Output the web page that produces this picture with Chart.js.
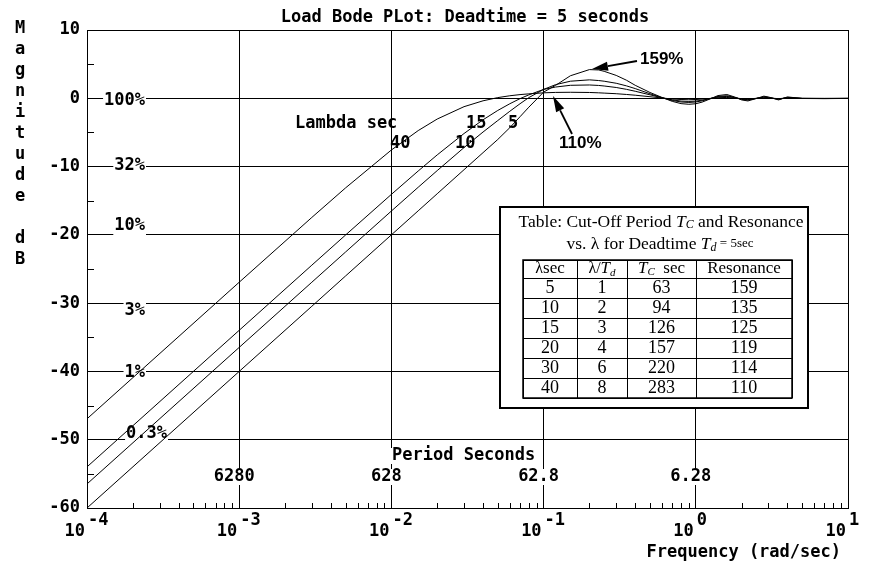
<!DOCTYPE html>
<html>
<head>
<meta charset="utf-8">
<script src="https://cdn.jsdelivr.net/npm/chart.js@4.4.1/dist/chart.umd.min.js"></script>
<style>
  html, body { margin: 0; padding: 0; background: #fff; }
  #chart { display: block; }
</style>
</head>
<body>
<canvas id="chart" width="869" height="563"></canvas>
<script>
// frequency grid (rad/sec) and load response magnitude (dB) per lambda
const freqs = [0.0001, 0.001, 0.003, 0.005, 0.01, 0.015, 0.02, 0.03, 0.04, 0.05, 0.06, 0.07, 0.08,
  0.1, 0.12, 0.15, 0.2, 0.23, 0.25, 0.3, 0.35, 0.4, 0.5, 0.6, 0.7, 0.8, 0.9, 1.0, 1.1, 1.2,
  1.4, 1.6, 1.8, 2.0, 2.2, 2.5, 2.8, 3.0, 3.5, 4, 5, 7, 10];

const lambda5Db = [-60.0, -40.0, -30.46, -26.02, -20.0, -16.48, -13.98, -10.46, -7.96, -6.03, -4.3, -2.7, -1.3,
  0.9, 1.9, 3.3, 4.2, 4.15, 3.95, 3.35, 2.65, 1.9, 0.85, 0.12, -0.45, -0.78, -0.88, -0.80, -0.56, -0.23,
  0.40, 0.55, 0.19, -0.24, -0.39, -0.03, 0.31, 0.19, -0.24, 0.20, -0.03, -0.05, -0.02];

const lambda10Db = [-56.48, -36.48, -26.94, -22.51, -16.51, -13.03, -10.59, -7.22, -4.94, -3.26, -1.9, -0.8, 0.1,
  1.3, 2.0, 2.5, 2.7, 2.6, 2.5, 2.2, 1.82, 1.42, 0.66, 0.08, -0.32, -0.54, -0.61, -0.54, -0.37, -0.15,
  0.27, 0.37, 0.13, -0.16, -0.26, -0.02, 0.21, 0.13, -0.16, 0.13, -0.02, -0.04, -0.02];

const lambda15Db = [-53.98, -33.98, -24.44, -20.02, -14.07, -10.65, -8.29, -5.16, -3.15, -1.78, -0.80, -0.05, 0.5,
  1.3, 1.65, 1.9, 1.95, 1.88, 1.80, 1.58, 1.31, 1.03, 0.51, 0.07, -0.23, -0.41, -0.46, -0.41, -0.28, -0.11,
  0.20, 0.27, 0.10, -0.12, -0.20, -0.01, 0.16, 0.09, -0.12, 0.10, -0.01, -0.03, -0.01];

const lambda40Db = [-46.94, -26.94, -17.45, -13.12, -7.57, -4.73, -3.04, -1.23, -0.37, 0.10, 0.37, 0.54, 0.65,
  0.80, 0.86, 0.88, 0.85, 0.80, 0.76, 0.67, 0.56, 0.45, 0.23, 0.04, -0.10, -0.18, -0.21, -0.18, -0.12, -0.05,
  0.09, 0.12, 0.04, -0.05, -0.09, -0.01, 0.07, 0.04, -0.05, 0.04, -0.01, -0.01, -0.01];

const decadeExps = [-4, -3, -2, -1, 0, 1];
const minorMults = [2, 3, 4, 5, 6, 7, 8, 9];
const yMinorTicks = [5, -5, -15, -25, -35, -45, -55];

const percentLevels = [0, -10, -20, -30, -40, -50];
const percentLabels = ['100%', '32%', '10%', '3%', '1%', '0.3%'];

const periodFreqs = [0.001, 0.01, 0.1, 1];
const periodLabels = ['6280', '628', '62.8', '6.28'];

// table values
const tableLambda = [5, 10, 15, 20, 30, 40];
const tableRatio = [1, 2, 3, 4, 6, 8];
const tableTc = [63, 94, 126, 157, 220, 283];
const tableResonance = [159, 135, 125, 119, 114, 110];

const MONO = 'bold 17px "DejaVu Sans Mono", "Liberation Mono", monospace';
const SANS = 'bold 17px "Liberation Sans", Arial, sans-serif';
const SERIF = '"Liberation Serif", "DejaVu Serif", serif';

// label layout (pixel offsets relative to their anchors)
const percentRight = [145, 145, 145, 145, 145, 167];
const percentDy = [2, -1, -9, 7, 1, -6];

const toPoints = (vals) => freqs.map((f, i) => ({ x: f, y: vals[i] }));

const put = (ctx, str, x, y, font, align = 'left') => {
  ctx.font = font;
  ctx.textAlign = align;
  ctx.textBaseline = 'middle';
  ctx.fillText(str, x, y);
};

const clearBehind = (ctx, str, x, y, font, align, extraTop = 0, extraBottom = 0) => {
  ctx.font = font;
  const w = ctx.measureText(str).width;
  let left = x;
  if (align === 'right') left = x - w;
  if (align === 'center') left = x - w / 2;
  ctx.fillStyle = '#fff';
  ctx.fillRect(left - 1, y - 8 - extraTop, w + 2, 16 + extraTop + extraBottom);
  ctx.fillStyle = '#000';
};

const rich = (ctx, segs, cx, cy) => {
  ctx.textBaseline = 'middle';
  ctx.textAlign = 'left';
  let total = 0;
  segs.forEach((s) => {
    ctx.font = s.f;
    total += ctx.measureText(s.t).width;
  });
  let x = cx - total / 2;
  segs.forEach((s) => {
    ctx.font = s.f;
    ctx.fillText(s.t, x, cy + (s.dy || 0));
    x += ctx.measureText(s.t).width;
  });
};

const arrow = (ctx, x1, y1, x2, y2) => {
  const ang = Math.atan2(y2 - y1, x2 - x1);
  const head = 16;
  const half = 4.5;
  const bx = x2 - head * Math.cos(ang);
  const by = y2 - head * Math.sin(ang);
  ctx.lineWidth = 1.8;
  ctx.beginPath();
  ctx.moveTo(x1, y1);
  ctx.lineTo(bx, by);
  ctx.stroke();
  ctx.beginPath();
  ctx.moveTo(x2, y2);
  ctx.lineTo(bx + half * Math.sin(ang), by - half * Math.cos(ang));
  ctx.lineTo(bx - half * Math.sin(ang), by + half * Math.cos(ang));
  ctx.closePath();
  ctx.fill();
};

const drawTable = (ctx) => {
  const serif = (size, italic) => (italic ? 'italic ' : '') + size + 'px ' + SERIF;
  ctx.fillStyle = '#fff';
  ctx.fillRect(500, 207, 308, 201);
  ctx.strokeStyle = '#000';
  ctx.lineWidth = 2;
  ctx.strokeRect(500, 207, 308, 201);
  ctx.fillStyle = '#000';

  rich(ctx, [
    { t: 'Table: Cut-Off Period ', f: serif(17.5) },
    { t: 'T', f: serif(17.5, true) },
    { t: 'C', f: serif(12, true), dy: 3 },
    { t: ' and Resonance', f: serif(17.5) },
  ], 661, 222);
  rich(ctx, [
    { t: 'vs. λ for Deadtime ', f: serif(17.5) },
    { t: 'T', f: serif(17.5, true) },
    { t: 'd', f: serif(12, true), dy: 4 },
    { t: ' = 5sec', f: serif(13) },
  ], 660, 244);

  const cols = [523, 577, 627, 696, 792];
  const rows = [260, 278, 298, 318, 338, 358, 378, 398];
  ctx.lineWidth = 1;
  ctx.beginPath();
  cols.forEach((x) => { ctx.moveTo(x + 0.5, rows[0]); ctx.lineTo(x + 0.5, rows[rows.length - 1]); });
  rows.forEach((y) => { ctx.moveTo(cols[0], y + 0.5); ctx.lineTo(cols[cols.length - 1], y + 0.5); });
  ctx.stroke();
  ctx.lineWidth = 1.5;
  ctx.strokeRect(cols[0], rows[0], cols[4] - cols[0], rows[7] - rows[0]);

  const mid = (i) => (cols[i] + cols[i + 1]) / 2;
  const hy = (rows[0] + rows[1]) / 2;
  rich(ctx, [{ t: 'λ', f: serif(16) }, { t: 'sec', f: serif(17) }], mid(0), hy);
  rich(ctx, [{ t: 'λ/', f: serif(16) }, { t: 'T', f: serif(17, true) }, { t: 'd', f: serif(11, true), dy: 4 }], mid(1), hy);
  rich(ctx, [{ t: 'T', f: serif(17, true) }, { t: 'C', f: serif(11, true), dy: 3 }, { t: '  sec', f: serif(17) }], mid(2), hy);
  rich(ctx, [{ t: 'Resonance', f: serif(17) }], mid(3), hy);

  tableLambda.forEach((v, r) => {
    const y = (rows[r + 1] + rows[r + 2]) / 2 + 0.5;
    [v, tableRatio[r], tableTc[r], tableResonance[r]].forEach((cell, c) => {
      put(ctx, String(cell), mid(c), y, serif(18), 'center');
    });
  });
};

const overlay = {
  id: 'overlay',
  beforeDatasetsDraw(chart) {
    const { ctx, chartArea: a, scales: { x, y } } = chart;
    ctx.save();
    // gaps in the grid behind the in-plot labels
    percentLabels.forEach((lab, i) => {
      const ly = y.getPixelForValue(percentLevels[i]);
      const cy = ly + percentDy[i];
      const up = Math.max(0, cy - 8 - (ly - 2));
      const down = Math.max(0, ly + 2 - (cy + 8));
      clearBehind(ctx, lab, percentRight[i], cy, MONO, 'right', up, down);
    });
    periodLabels.forEach((lab, i) => {
      clearBehind(ctx, lab, x.getPixelForValue(periodFreqs[i]) - 5, 477, MONO, 'center');
    });
    clearBehind(ctx, 'Period Seconds', 392, 456, MONO, 'left');
    // minor ticks
    ctx.strokeStyle = '#000';
    ctx.lineWidth = 1;
    ctx.beginPath();
    decadeExps.slice(0, -1).forEach((e) => {
      minorMults.forEach((m) => {
        const px = Math.round(x.getPixelForValue(m * Math.pow(10, e))) + 0.5;
        ctx.moveTo(px, a.bottom);
        ctx.lineTo(px, a.bottom - 5);
      });
    });
    yMinorTicks.forEach((v) => {
      const py = Math.round(y.getPixelForValue(v)) + 0.5;
      ctx.moveTo(a.left, py);
      ctx.lineTo(a.left + 7, py);
    });
    ctx.stroke();
    ctx.restore();
  },
  afterDraw(chart) {
    const { ctx, scales: { x, y } } = chart;
    ctx.save();
    ctx.fillStyle = '#000';
    ctx.strokeStyle = '#000';

    put(ctx, 'Load Bode PLot: Deadtime = 5 seconds', 465, 18, MONO, 'center');

    // vertical axis title
    'Magnitude dB'.split('').forEach((ch, i) => {
      put(ctx, ch, 20, 29 + i * 21, MONO, 'center');
    });

    // decade labels 10^n
    decadeExps.forEach((e) => {
      const px = x.getPixelForValue(Math.pow(10, e));
      put(ctx, '10', px - 2, 532, MONO, 'right');
      put(ctx, String(e), px + 1, 521, MONO, 'left');
    });
    put(ctx, 'Frequency (rad/sec)', 841, 553, MONO, 'right');

    percentLabels.forEach((lab, i) => {
      const ly = y.getPixelForValue(percentLevels[i]);
      put(ctx, lab, percentRight[i], ly + percentDy[i], MONO, 'right');
    });
    periodLabels.forEach((lab, i) => {
      put(ctx, lab, x.getPixelForValue(periodFreqs[i]) - 5, 477, MONO, 'center');
    });
    put(ctx, 'Period Seconds', 392, 456, MONO, 'left');

    // curve labels
    put(ctx, 'Lambda sec', 295, 124, MONO);
    put(ctx, '40', 390, 144, MONO);
    put(ctx, '10', 455, 144, MONO);
    put(ctx, '15', 466, 124, MONO);
    put(ctx, '5', 508, 124, MONO);

    // resonance call-outs
    put(ctx, '159%', 640, 59, SANS);
    arrow(ctx, 637, 61, 592, 69);
    put(ctx, '110%', 559, 143, SANS);
    arrow(ctx, 572, 134, 553, 96);

    drawTable(ctx);
    ctx.restore();
  },
};

const line = (vals) => ({
  data: toPoints(vals),
  borderColor: '#000',
  borderWidth: 1,
  pointRadius: 0,
  tension: 0,
  fill: false,
});

new Chart(document.getElementById('chart'), {
  type: 'line',
  data: {
    datasets: [line(lambda40Db), line(lambda15Db), line(lambda10Db), line(lambda5Db)],
  },
  options: {
    responsive: false,
    animation: false,
    devicePixelRatio: 1,
    layout: { padding: { top: 30, right: 21, bottom: 0, left: 0 } },
    plugins: { legend: { display: false }, tooltip: { enabled: false }, title: { display: false } },
    scales: {
      x: {
        type: 'logarithmic',
        min: 0.0001,
        max: 10,
        afterBuildTicks: (s) => {
          s.ticks = decadeExps.map((e) => ({ value: Math.pow(10, e), major: true }));
        },
        afterFit: (s) => { s.height = 55; },
        ticks: { display: false },
        grid: { color: '#000', lineWidth: 1, drawTicks: false },
        border: { color: '#000', width: 1 },
      },
      y: {
        min: -60,
        max: 10,
        afterFit: (s) => { s.width = 87; },
        ticks: {
          stepSize: 10,
          color: '#000',
          padding: 7,
          font: { family: '"DejaVu Sans Mono", "Liberation Mono", monospace', size: 17, weight: 'bold' },
        },
        grid: { color: '#000', lineWidth: 1, drawTicks: false },
        border: { color: '#000', width: 1 },
      },
    },
  },
  plugins: [overlay],
});
</script>
</body>
</html>
